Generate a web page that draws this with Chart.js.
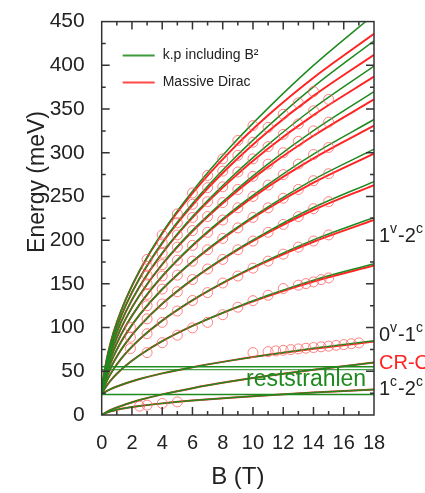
<!DOCTYPE html>
<html>
<head>
<meta charset="utf-8">
<script src="https://cdn.jsdelivr.net/npm/chart.js@4.4.0/dist/chart.umd.min.js"></script>
<style>
  html, body { margin: 0; padding: 0; background: #fff; }
  canvas { display: block; }
</style>
</head>
<body>
<canvas id="landau-chart" width="425" height="493"></canvas>
<script>
const fieldB = [0, 0.1, 0.3, 0.6, 1, 1.6, 2.5, 4, 6, 8.5, 11, 14, 18];

// Massive Dirac (red)
const dirac01 = [24, 25.1, 27.1, 29.7, 32.6, 36.3, 41.1, 47.6, 54.7, 62.2, 68.8, 75.8, 84];
const dirac12 = [24, 27.3, 32.8, 39.6, 47.1, 56.6, 68.3, 84.4, 101.9, 120.3, 136.2, 152.8, 171];
const dirac23 = [24, 29.2, 37.6, 47.4, 57.9, 70.8, 86.7, 108, 131.2, 155.4, 176.3, 198.2, 223];
const dirac34 = [24, 31.1, 41.8, 54, 66.9, 82.6, 101.6, 127.2, 154.9, 183.7, 208.5, 234.5, 263];
const dirac45 = [24, 32.9, 45.7, 59.9, 74.8, 92.8, 114.6, 143.8, 175.3, 208.1, 236.3, 265.8, 299];
const dirac56 = [24, 34.5, 49.2, 65.3, 82, 102.1, 126.3, 158.6, 193.5, 229.9, 261.2, 293.6, 331];
const dirac67 = [24, 36.1, 52.5, 70.3, 88.6, 110.5, 136.9, 172.2, 210.2, 249.7, 283.8, 319.4, 361];
const dirac78 = [24, 37.6, 55.6, 74.9, 94.7, 118.3, 146.8, 184.8, 225.7, 268.1, 304.8, 343, 387];
const dirac89 = [24, 39.1, 58.6, 79.3, 100.4, 125.7, 156.1, 196.5, 240.1, 285.4, 324.4, 365, 412];
const dirac910 = [24, 40.5, 61.4, 83.4, 105.9, 132.6, 164.8, 207.6, 253.7, 301.6, 342.8, 385.8, 436];

// k.p including B^2 (green)
const kp01 = [24, 25.1, 27.1, 29.7, 32.6, 36.3, 41.1, 47.6, 54.7, 62.2, 68.9, 76.4, 85];
const kp12 = [24, 27.3, 32.8, 39.6, 47.1, 56.6, 68.3, 84.4, 101.9, 120.4, 136.9, 154.3, 173];
const kp23 = [24, 29.2, 37.6, 47.4, 57.9, 70.8, 86.7, 108, 131.3, 155.9, 177.4, 200.3, 226];
const kp34 = [24, 31.1, 41.8, 54, 66.9, 82.6, 101.6, 127.3, 155.2, 184.6, 210, 237.3, 267];
const kp45 = [24, 32.9, 45.7, 59.9, 74.8, 92.8, 114.6, 144, 175.8, 209.2, 238.2, 269.3, 304];
const kp56 = [24, 34.5, 49.2, 65.3, 82, 102.1, 126.4, 158.9, 194.3, 231.5, 263.8, 298.5, 338];
const kp67 = [24, 36.1, 52.5, 70.3, 88.6, 110.6, 137.1, 172.6, 211.2, 251.7, 287.2, 325.3, 370];
const kp78 = [24, 37.6, 55.6, 74.9, 94.7, 118.4, 147.1, 185.4, 227, 270.8, 309.3, 350.9, 399];
const kp89 = [24, 39.1, 58.6, 79.3, 100.5, 125.9, 156.5, 197.3, 241.9, 289, 330.4, 375.4, 428];
const kp910 = [24, 40.5, 61.4, 83.4, 106, 132.8, 165.2, 208.7, 256.1, 306.5, 351, 399.9, 458];

// intraband lines starting at zero
const crLine = [0, 1.1, 3.1, 5.7, 8.6, 12.3, 17.1, 23.6, 30.7, 38.2, 44.8, 51.8, 60];
const intra12 = [0, 1, 2.6, 4.3, 5.9, 7.9, 10.2, 13.3, 16.5, 19.8, 22.6, 25.6, 29.1];

// reststrahlen band edges (meV)
const bandB = [0, 18];
const bandTop = [55.3, 55.3];
const bandMid = [51.8, 51.8];
const bandLow = [23.4, 23.4];

// measured points (open circles)
const obsB01 = [10, 11, 11.5, 12, 12.5, 13, 13.5, 14, 14.5, 15, 15.5, 16, 16.5, 17];
const obsE01 = [71.4, 72.5, 73.3, 74, 74.8, 75.6, 76.4, 77.2, 78, 78.8, 79.7, 80.5, 81.5, 82.5];
const obsBc = [2.5, 3, 4, 5];
const obsEc = [10.1, 11.3, 13.2, 15];
const obsB12 = [3, 4, 5, 6, 7, 8, 9, 10, 11, 12, 13, 13.5, 14, 14.5, 15];
const obsE12 = [71.4, 82.7, 91.3, 99.6, 106, 114.7, 123.3, 130.8, 137, 144.7, 148.5, 150.3, 152.2, 154.9, 156.8];
const obsB23 = [1.9, 3, 4, 5, 6, 7, 8, 9, 10, 11, 12, 13, 14, 15];
const obsE23 = [76, 93, 106, 119, 131, 140, 151, 159, 168, 176, 184, 192, 199, 206];
const obsE34 = [89, 110, 127, 141, 155, 167, 178, 189, 199, 209, 218, 227, 236, 244];
const obsE45 = [100, 125, 144, 160, 176, 189, 202, 214, 226, 237, 248, 258, 268, 276];
const obsB56 = [3, 4, 5, 6, 7, 8, 9, 10, 11, 12, 13, 14, 15];
const obsE56 = [138, 159, 177, 194, 209, 223, 237, 250, 263, 275, 287, 298, 306];
const obsE67 = [150, 172, 192, 211, 227, 243, 258, 273, 287, 300, 313, 325, 335];
const obsE78 = [160, 185, 206, 226, 244, 261, 278, 293, 307, 321, 333, 348, 361];
const obsB89 = [3, 4, 5, 6, 7, 8, 9, 10, 11, 12, 13, 14];
const obsE89 = [170, 197, 220, 241, 260, 279, 297, 312, 329, 344, 357, 370];
const obsB910 = [3, 4, 5, 6, 7, 8, 9, 10];
const obsE910 = [178, 206, 230, 254, 274, 293, 314, 331];

const GREEN = "#1f8a1f";
const RED = "#ff2424";
const FONT = "'Liberation Sans', Arial, sans-serif";

const toPoints = (xs, ys) => xs.map((x, i) => ({ x: x, y: ys[i] }));

const curve = (ys, color, width, order) => ({
  data: toPoints(fieldB, ys),
  showLine: true,
  borderColor: color,
  borderWidth: width,
  pointRadius: 0,
  cubicInterpolationMode: "monotone",
  order: order,
});

const circles = (xs, ys) => ({
  data: toPoints(xs, ys),
  showLine: false,
  pointRadius: 5,
  pointStyle: "circle",
  borderColor: "rgba(255, 90, 90, 0.75)",
  backgroundColor: "rgba(0,0,0,0)",
  borderWidth: 1,
  order: 1,
});

const band = (ys, width) => ({
  data: toPoints(bandB, ys),
  showLine: true,
  borderColor: GREEN,
  borderWidth: width,
  pointRadius: 0,
  tension: 0,
  order: 2,
});

const redSets = [dirac01, dirac12, dirac23, dirac34, dirac45, dirac56, dirac67, dirac78, dirac89, dirac910, crLine, intra12];
const greenSets = [kp01, kp12, kp23, kp34, kp45, kp56, kp67, kp78, kp89, kp910, crLine, intra12];

const datasets = [];
redSets.forEach((ys) => datasets.push(curve(ys, RED, 2, 4)));
greenSets.forEach((ys) => datasets.push(curve(ys, GREEN, 1.5, 3)));
datasets.push(band(bandTop, 1.5), band(bandMid, 1), band(bandLow, 1.5));
datasets.push(
  circles(obsB01, obsE01),
  circles(obsBc, obsEc),
  circles(obsB12, obsE12),
  circles(obsB23, obsE23),
  circles(obsB23, obsE34),
  circles(obsB23, obsE45),
  circles(obsB56, obsE56),
  circles(obsB56, obsE67),
  circles(obsB56, obsE78),
  circles(obsB89, obsE89),
  circles(obsB910, obsE910)
);

// draws text like 1^v-2^c with small raised letters
const drawSup = (ctx, parts, x, y, color) => {
  ctx.fillStyle = color;
  ctx.textBaseline = "alphabetic";
  ctx.textAlign = "left";
  parts.forEach((p) => {
    ctx.font = p.sup ? `14px ${FONT}` : `20px ${FONT}`;
    ctx.fillText(p.t, x, p.sup ? y - 9 : y);
    x += ctx.measureText(p.t).width + (p.sup ? 1 : 0);
  });
};

const framePlugin = {
  id: "frame",
  afterDatasetsDraw(chart) {
    const { ctx, chartArea: a, scales } = chart;
    ctx.save();
    ctx.strokeStyle = "#333";
    ctx.lineWidth = 1.5;
    ctx.strokeRect(a.left, a.top, a.right - a.left, a.bottom - a.top);

    ctx.beginPath();
    for (let b = 1; b < 18; b++) {
      const px = scales.x.getPixelForValue(b);
      const len = b % 2 === 0 ? 8 : 4;
      ctx.moveTo(px, a.bottom);
      ctx.lineTo(px, a.bottom - len);
      ctx.moveTo(px, a.top);
      ctx.lineTo(px, a.top + len);
    }
    for (let e = 25; e < 450; e += 25) {
      const py = scales.y.getPixelForValue(e);
      const len = e % 50 === 0 ? 8 : 4;
      ctx.moveTo(a.left, py);
      ctx.lineTo(a.left + len, py);
      ctx.moveTo(a.right, py);
      ctx.lineTo(a.right - len, py);
    }
    ctx.stroke();

    // legend
    ctx.lineWidth = 2;
    ctx.strokeStyle = "#3c9a3c";
    ctx.beginPath();
    ctx.moveTo(a.left + 21, a.top + 34);
    ctx.lineTo(a.left + 53, a.top + 34);
    ctx.stroke();
    ctx.strokeStyle = "#ff4a4a";
    ctx.beginPath();
    ctx.moveTo(a.left + 21, a.top + 61);
    ctx.lineTo(a.left + 53, a.top + 61);
    ctx.stroke();
    ctx.fillStyle = "#222";
    ctx.font = `14px ${FONT}`;
    ctx.textBaseline = "middle";
    ctx.textAlign = "left";
    ctx.fillText("k.p including B\u00b2", a.left + 61, a.top + 34);
    ctx.fillText("Massive Dirac", a.left + 61, a.top + 61);

    // transition labels
    const lx = a.right + 5;
    drawSup(ctx, [{ t: "1" }, { t: "v", sup: true }, { t: "-2" }, { t: "c", sup: true }], lx, 242, "#222");
    drawSup(ctx, [{ t: "0" }, { t: "v", sup: true }, { t: "-1" }, { t: "c", sup: true }], lx, 341, "#222");
    drawSup(ctx, [{ t: "CR-O" }], lx, 369, RED);
    drawSup(ctx, [{ t: "1" }, { t: "c", sup: true }, { t: "-2" }, { t: "c", sup: true }], lx, 395, "#222");

    ctx.fillStyle = GREEN;
    ctx.font = `23px ${FONT}`;
    ctx.textBaseline = "middle";
    ctx.fillText("reststrahlen", 246, 380);

    // axis titles
    ctx.fillStyle = "#222";
    ctx.font = `24px ${FONT}`;
    ctx.textAlign = "center";
    ctx.fillText("B (T)", (a.left + a.right) / 2, 477);
    ctx.translate(38, 182);
    ctx.rotate(-Math.PI / 2);
    ctx.font = `23px ${FONT}`;
    ctx.fillText("Energy (meV)", 0, 0);
    ctx.restore();
  },
};

new Chart(document.getElementById("landau-chart"), {
  type: "scatter",
  data: { datasets: datasets },
  options: {
    responsive: false,
    animation: false,
    layout: { padding: { top: 16, right: 51, left: 0, bottom: 0 } },
    plugins: {
      legend: { display: false },
      tooltip: { enabled: false },
    },
    scales: {
      x: {
        type: "linear",
        min: 0,
        max: 18,
        grid: { display: false },
        border: { display: false },
        ticks: {
          stepSize: 2,
          autoSkip: false,
          maxRotation: 0,
          padding: 8,
          color: "#222",
          font: { family: FONT, size: 20 },
        },
        afterFit: (scale) => {
          scale.height = 78;
        },
      },
      y: {
        min: 0,
        max: 450,
        grid: { display: false },
        border: { display: false },
        ticks: {
          stepSize: 50,
          padding: 9,
          color: "#222",
          font: { family: FONT, size: 21 },
        },
        afterFit: (scale) => {
          scale.width = 101.7;
        },
      },
    },
  },
  plugins: [framePlugin],
});
</script>
</body>
</html>
